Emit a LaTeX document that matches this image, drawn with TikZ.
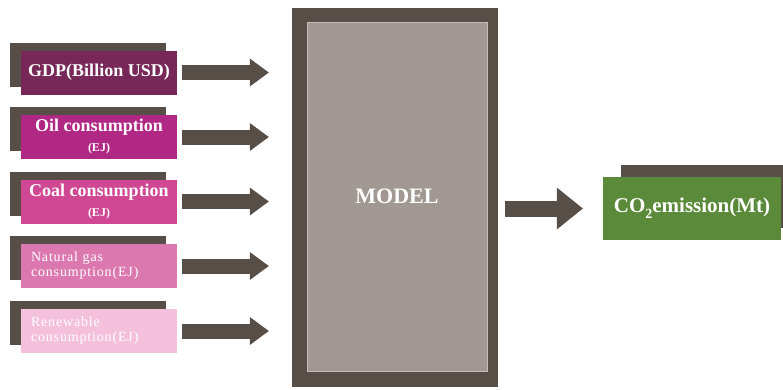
\documentclass[tikz,border=0pt]{standalone}
\usepackage{fontspec}
\setmainfont{Liberation Serif}
\newfontfamily\spacedserif[LetterSpace=6]{Liberation Serif}
\usetikzlibrary{shapes,arrows.meta,positioning,shadows}
\definecolor{framebrown}{RGB}{88,78,72}
\definecolor{modelgray}{RGB}{161,151,147}
\definecolor{modeledge}{RGB}{196,188,184}
\definecolor{gdpplum}{RGB}{120,40,88}
\definecolor{oilmagenta}{RGB}{176,40,132}
\definecolor{coalpink}{RGB}{208,72,148}
\definecolor{gaspink}{RGB}{220,120,176}
\definecolor{renewpink}{RGB}{244,192,220}
\definecolor{emitgreen}{RGB}{90,138,58}
\tikzset{
    % Input box style (dark backing offset to the upper left)
    inputbox/.style={
        rectangle, fill=#1, text=white,
        minimum width=156pt, minimum height=44pt,
        inner sep=0pt, align=center,
        font=\bfseries\fontsize{18}{20}\selectfont,
        drop shadow={shadow xshift=-11pt, shadow yshift=8pt,
            opacity=1, fill=framebrown}
    },
    % Smaller left aligned text for the lower inputs
    smallinput/.style={
        inputbox=#1, text width=136pt, inner xsep=10pt,
        align=left, font=\spacedserif\fontsize{14}{15}\selectfont
    },
    % Model frame and its core
    modelframe/.style={
        rectangle, fill=framebrown,
        minimum width=206pt, minimum height=379pt
    },
    modelcore/.style={
        rectangle, draw=modeledge, fill=modelgray, text=white,
        minimum width=180pt, minimum height=349pt,
        font=\bfseries\fontsize{22}{24}\selectfont
    },
    % Output box style (backing offset to the upper right)
    outputbox/.style={
        rectangle, fill=emitgreen, text=white,
        minimum width=178pt, minimum height=63pt,
        font=\bfseries\fontsize{21}{23}\selectfont,
        drop shadow={shadow xshift=18pt, shadow yshift=12pt,
            opacity=1, fill=framebrown}
    },
    % Block arrows
    inarrow/.style={
        line width=15pt, color=framebrown,
        -{Triangle[length=19pt, width=28pt, line width=0pt]}
    },
    outarrow/.style={
        line width=16pt, color=framebrown,
        -{Triangle[length=26pt, width=42pt, line width=0pt]}
    }
}
\begin{document}
\begin{tikzpicture}[x=1pt, y=-1pt]
\useasboundingbox (0,0) rectangle (783,389);

% Model block
\node[modelframe] (frame) at (395,197.5) {};
\node[modelcore] (model) at (397,196.5) {MODEL};

% Inputs
\node[inputbox=gdpplum] (gdp) at (99,72.5) {GDP(Billion USD)};
\node[inputbox=oilmagenta] (oil) at (99,137) {Oil consumption\\{\fontsize{12}{13}\selectfont (EJ)}};
\node[inputbox=coalpink] (coal) at (99,201.5) {Coal consumption\\{\fontsize{12}{13}\selectfont (EJ)}};
\node[smallinput=gaspink] (gas) at (99,266) {Natural gas\\consumption(EJ)};
\node[smallinput=renewpink] (renew) at (99,331) {Renewable\\consumption(EJ)};

% Output
\node[outputbox] (emission) at (692,208.5) {CO\raisebox{-6pt}{\fontsize{14}{14}\selectfont 2}emission(Mt)};

% Arrows into the model
\foreach \src in {gdp,oil,coal,gas,renew} {
    \draw[inarrow, shorten <=5pt, shorten >=23pt] (\src.east) -- (\src.east -| frame.west);
}

% Arrow out of the model
\draw[outarrow, shorten <=7pt, shorten >=20pt] (frame.east |- emission.west) -- (emission.west);

\end{tikzpicture}
\end{document}
